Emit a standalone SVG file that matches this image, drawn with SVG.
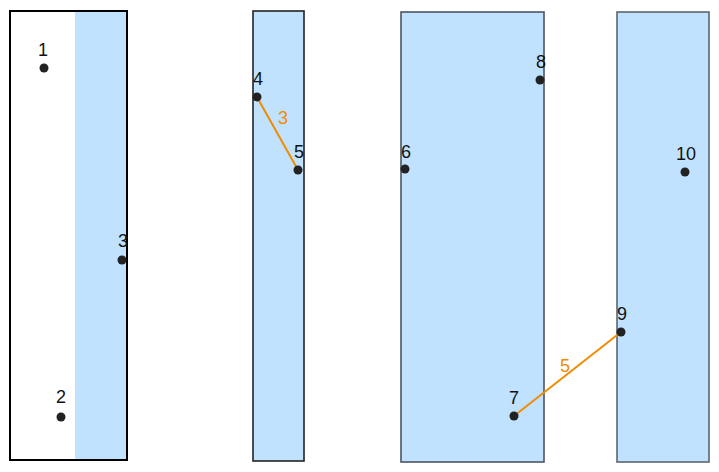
<svg xmlns="http://www.w3.org/2000/svg" width="719" height="472" viewBox="0 0 719 472">
<style>
.fill{fill:#c0e2ff}
.pt{fill:#222}
.lbl{font-family:"Liberation Sans",Arial,sans-serif;font-size:18px;fill:#111;text-anchor:middle}
.elbl{font-family:"Liberation Sans",Arial,sans-serif;font-size:18px;fill:#f08c00;text-anchor:middle}
.edge{stroke:#f08c00;stroke-width:2;fill:none}
</style>
<rect width="719" height="472" fill="#fff"/>
<g id="box1">
<rect x="75" y="11" width="52" height="449" class="fill"/>
<rect x="10" y="11" width="117" height="449" fill="none" stroke="#000" stroke-width="2"/>
</g>
<g id="box2"><rect x="253" y="11" width="51" height="450" class="fill" stroke="#222" stroke-width="1.6"/></g>
<g id="box3"><rect x="401" y="12" width="143" height="450" class="fill" stroke="#4d5661" stroke-width="1.6"/></g>
<g id="box4"><rect x="617" y="12" width="92" height="450" class="fill" stroke="#5c6670" stroke-width="1.6"/></g>
<g id="connectors">
<line x1="257" y1="97" x2="298" y2="170" class="edge"/>
<text x="283" y="124" class="elbl">3</text>
<line x1="514" y1="416" x2="621" y2="332" class="edge"/>
<text x="565" y="372" class="elbl">5</text>
</g>
<g id="n1"><circle cx="44" cy="68" r="4.5" class="pt"/><text x="43" y="56" class="lbl">1</text></g>
<g id="n2"><circle cx="61" cy="417" r="4.5" class="pt"/><text x="61" y="403" class="lbl">2</text></g>
<g id="n3"><circle cx="122" cy="260" r="4.5" class="pt"/><text x="123" y="247" class="lbl">3</text></g>
<g id="n4"><circle cx="257" cy="97" r="4.5" class="pt"/><text x="258" y="85" class="lbl">4</text></g>
<g id="n5"><circle cx="298" cy="170" r="4.5" class="pt"/><text x="299" y="158" class="lbl">5</text></g>
<g id="n6"><circle cx="405" cy="169" r="4.5" class="pt"/><text x="406" y="158" class="lbl">6</text></g>
<g id="n7"><circle cx="514" cy="416" r="4.5" class="pt"/><text x="514" y="404" class="lbl">7</text></g>
<g id="n8"><circle cx="540" cy="80" r="4.5" class="pt"/><text x="541" y="68" class="lbl">8</text></g>
<g id="n9"><circle cx="621" cy="332" r="4.5" class="pt"/><text x="622" y="320" class="lbl">9</text></g>
<g id="n10"><circle cx="685" cy="172" r="4.5" class="pt"/><text x="686" y="160" class="lbl">10</text></g>
</svg>
